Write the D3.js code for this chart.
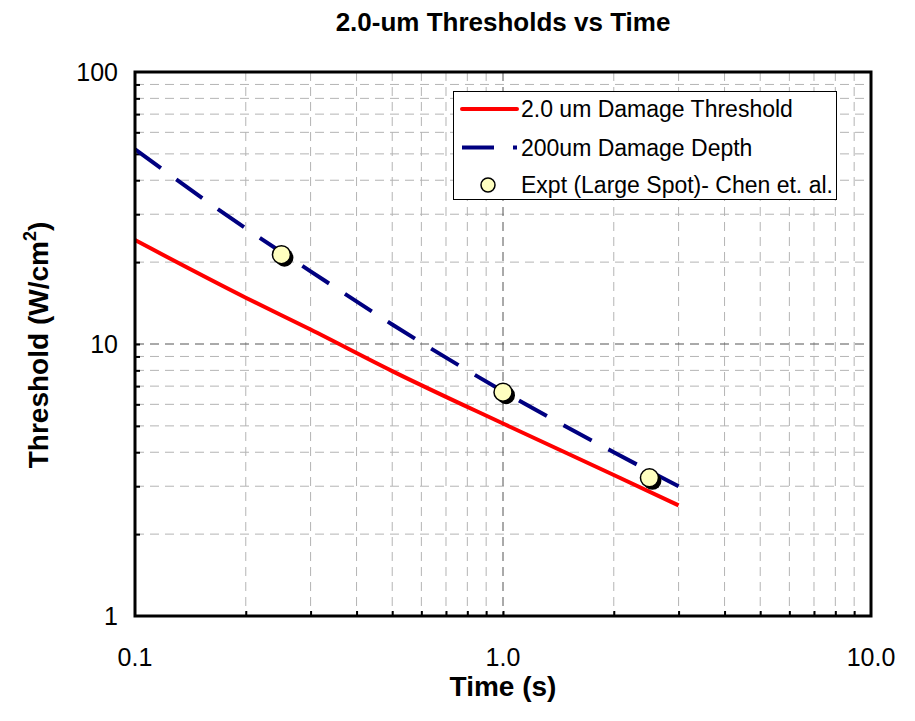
<!DOCTYPE html>
<html><head><meta charset="utf-8">
<script src="https://cdn.jsdelivr.net/npm/d3@7"></script>
<style>body{margin:0;background:#fff}text{font-family:Arial,"Liberation Sans",sans-serif}</style>
</head><body><svg id="c" width="915" height="721"></svg>
<script>
const redTime = [0.1, 0.2, 0.3, 0.5, 1.0, 2.0, 3.0];
const redValue = [24.1, 14.8, 11.3, 7.95, 5.1, 3.3, 2.55];
const blueTime = [0.1, 0.2, 0.3, 0.5, 1.0, 2.0, 3.0];
const blueValue = [52, 26.6, 18.5, 11.8, 6.7, 4.0, 3.0];
const exptTime = [0.25, 1.0, 2.5];
const exptValue = [21.3, 6.65, 3.22];
const xTicks = [0.1, 1, 10];
const xTickLabels = ["0.1", "1.0", "10.0"];
const yTicks = [1, 10, 100];
const yTickLabels = ["1", "10", "100"];
const seriesNames = ["2.0 um Damage Threshold", "200um Damage Depth", "Expt (Large Spot)- Chen et. al."];

const svg = d3.select("#c");
const L = 135, R = 871, T = 72, B = 616;
const x = d3.scaleLog().domain([0.1, 10]).range([L, R]);
const y = d3.scaleLog().domain([1, 100]).range([B, T]);

const minorX = [], minorY = [];
[0.1, 1].forEach(d => { for (let k = 2; k <= 9; k++) minorX.push(d * k); });
[1, 10].forEach(d => { for (let k = 2; k <= 9; k++) minorY.push(d * k); });

const g = svg.append("g");
g.selectAll(".gx").data(minorX).enter().append("line")
  .attr("x1", d => x(d)).attr("x2", d => x(d)).attr("y1", T).attr("y2", B)
  .attr("stroke", "#b4b4b4").attr("stroke-width", 1).attr("stroke-dasharray", "9,6");
g.selectAll(".gy").data(minorY).enter().append("line")
  .attr("y1", d => y(d)).attr("y2", d => y(d)).attr("x1", L).attr("x2", R)
  .attr("stroke", "#b4b4b4").attr("stroke-width", 1).attr("stroke-dasharray", "9,6");
g.append("line").attr("x1", x(1)).attr("x2", x(1)).attr("y1", T).attr("y2", B)
  .attr("stroke", "#555").attr("stroke-width", 1).attr("stroke-dasharray", "9,6");
g.append("line").attr("y1", y(10)).attr("y2", y(10)).attr("x1", L).attr("x2", R)
  .attr("stroke", "#555").attr("stroke-width", 1).attr("stroke-dasharray", "9,6");

const xAxis = d3.axisBottom(x).tickValues(minorX.concat([1])).tickSize(-5).tickFormat("");
svg.append("g").attr("transform", `translate(0,${B})`).call(xAxis)
  .call(a => a.select(".domain").remove())
  .call(a => a.selectAll("line").attr("stroke", "#000").attr("stroke-width", 2));
const yAxis = d3.axisLeft(y).tickValues(minorY.concat([10])).tickSize(-5).tickFormat("");
svg.append("g").attr("transform", `translate(${L},0)`).call(yAxis)
  .call(a => a.select(".domain").remove())
  .call(a => a.selectAll("line").attr("stroke", "#000").attr("stroke-width", 2));

svg.selectAll(".xl").data(xTicks).enter().append("text")
  .attr("x", d => x(d)).attr("y", 666).attr("text-anchor", "middle")
  .attr("font-size", 25).text((d, i) => xTickLabels[i]);
svg.selectAll(".yl").data(yTicks).enter().append("text")
  .attr("x", 118).attr("y", d => y(d) + 9).attr("text-anchor", "end")
  .attr("font-size", 25).text((d, i) => yTickLabels[i]);

svg.append("clipPath").attr("id", "pc").append("rect")
  .attr("x", L).attr("y", T).attr("width", R - L).attr("height", B - T);
const line = d3.line().x(d => x(d[0])).y(d => y(d[1])).curve(d3.curveMonotoneX);
svg.append("path").datum(redTime.map((t, i) => [t, redValue[i]]))
  .attr("d", line).attr("fill", "none").attr("stroke", "#ff0000").attr("stroke-width", 4)
  .attr("clip-path", "url(#pc)");
svg.append("path").datum(blueTime.map((t, i) => [t, blueValue[i]]))
  .attr("d", line).attr("fill", "none").attr("stroke", "#000080").attr("stroke-width", 4)
  .attr("stroke-dasharray", "32,19").attr("clip-path", "url(#pc)");

const pts = exptTime.map((t, i) => [t, exptValue[i]]);
svg.selectAll(".sh").data(pts).enter().append("circle")
  .attr("cx", d => x(d[0]) + 3).attr("cy", d => y(d[1]) + 3).attr("r", 9).attr("fill", "#000");
svg.selectAll(".mk").data(pts).enter().append("circle")
  .attr("cx", d => x(d[0])).attr("cy", d => y(d[1])).attr("r", 9)
  .attr("fill", "#ffffc0").attr("stroke", "#000").attr("stroke-width", 1.5);

svg.append("rect").attr("x", L).attr("y", T).attr("width", R - L).attr("height", B - T)
  .attr("fill", "none").attr("stroke", "#000").attr("stroke-width", 3);

const lg = svg.append("g");
lg.append("rect").attr("x", 453.5).attr("y", 91.5).attr("width", 383).attr("height", 108)
  .attr("fill", "#fff").attr("stroke", "#000").attr("stroke-width", 1);
const ly = [109, 147.5, 185];
lg.append("line").attr("x1", 462).attr("x2", 517).attr("y1", ly[0]).attr("y2", ly[0])
  .attr("stroke", "#ff0000").attr("stroke-width", 4).attr("stroke-linecap", "round");
lg.append("line").attr("x1", 462).attr("x2", 517).attr("y1", ly[1]).attr("y2", ly[1])
  .attr("stroke", "#000080").attr("stroke-width", 4).attr("stroke-dasharray", "32,19");
lg.append("circle").attr("cx", 488).attr("cy", ly[2]).attr("r", 7)
  .attr("fill", "#ffffc0").attr("stroke", "#000").attr("stroke-width", 1.5);
lg.selectAll(".lt").data(seriesNames).enter().append("text")
  .attr("x", 521).attr("y", (d, i) => ly[i] + 8).attr("font-size", 23).text(d => d);

svg.append("text").attr("x", 503).attr("y", 31).attr("text-anchor", "middle")
  .attr("font-size", 26).attr("font-weight", "bold").text("2.0-um Thresholds vs Time");
svg.append("text").attr("x", 503).attr("y", 696).attr("text-anchor", "middle")
  .attr("font-size", 28).attr("font-weight", "bold").text("Time (s)");
const yl = svg.append("text").attr("transform", "translate(48,345) rotate(-90)")
  .attr("text-anchor", "middle").attr("font-size", 28).attr("font-weight", "bold");
yl.append("tspan").text("Threshold (W/cm");
yl.append("tspan").attr("font-size", 18).attr("dy", -12).text("2");
yl.append("tspan").attr("dy", 12).text(")");
</script></body></html>
